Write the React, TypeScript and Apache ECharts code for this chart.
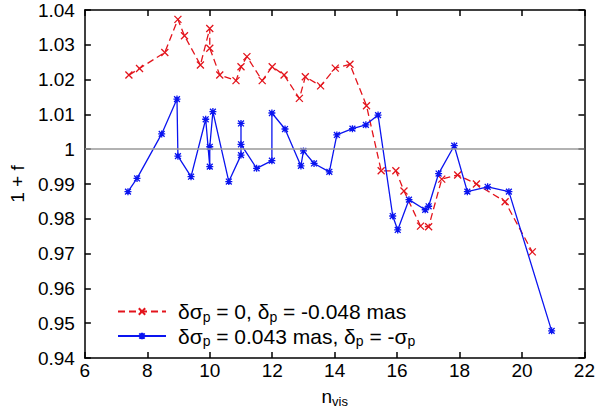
import React, { useEffect, useRef } from "react";
import * as echarts from "echarts";

const redX = [7.41, 7.75, 8.56, 8.98, 9.19, 9.7, 10.0, 10.0, 10.32, 10.84, 11.0, 11.19, 11.68, 12.0, 12.38, 12.87, 13.06, 13.55, 14.02, 14.49, 15.02, 15.49, 15.96, 16.22, 16.75, 17.01, 17.43, 17.94, 18.54, 19.46, 20.33];
const redY = [1.0213, 1.0232, 1.0278, 1.0373, 1.0326, 1.0242, 1.0347, 1.029, 1.0213, 1.0197, 1.0237, 1.0266, 1.0197, 1.0237, 1.0213, 1.0146, 1.0208, 1.0182, 1.0233, 1.0244, 1.0125, 0.9938, 0.9938, 0.988, 0.9779, 0.9777, 0.9914, 0.9926, 0.99, 0.9849, 0.9705];

const blueX = [7.38, 7.67, 8.46, 8.95, 8.98, 9.4, 9.87, 10.0, 10.0, 10.1, 10.61, 11.0, 11.0, 11.0, 11.5, 11.99, 11.99, 12.41, 12.92, 13.0, 13.34, 13.83, 14.07, 14.57, 15.0, 15.39, 15.86, 16.02, 16.38, 16.9, 17.01, 17.33, 17.83, 18.25, 18.9, 19.58, 20.95];
const blueY = [0.9878, 0.9916, 1.0044, 1.0144, 0.998, 0.9921, 1.0086, 0.995, 1.0007, 1.0108, 0.9907, 0.9983, 1.0074, 1.0014, 0.9945, 0.9967, 1.0104, 1.0058, 0.9952, 0.9995, 0.9959, 0.9935, 1.0041, 1.0059, 1.007, 1.0098, 0.9808, 0.9768, 0.9855, 0.9826, 0.9836, 0.993, 1.001, 0.9878, 0.9892, 0.9878, 0.9478];

const xTicks = { min: 6, max: 22, interval: 2 };
const yTicks = { min: 0.94, max: 1.04, interval: 0.01 };
const referenceY = 1;

const redName = "δσ{sub|p} = 0, δ{sub|p} = -0.048 mas";
const blueName = "δσ{sub|p} = 0.043 mas, δ{sub|p} = -σ{sub|p}";

const RED = "#e3141c";
const BLUE = "#0a14f0";
const FONT = "Liberation Sans, Arial, Helvetica, sans-serif";

const crossPath = "path://M0,0L10,10M10,0L0,10";
const starPath = "path://M0,0L10,10M10,0L0,10M5,-1L5,11M-1,5L11,5";

export default function App() {
  const ref = useRef<HTMLDivElement>(null);
  useEffect(() => {
    if (!ref.current) return;
    const chart = echarts.init(ref.current, undefined, { renderer: "svg" });
    const zip = (xs: number[], ys: number[]) => xs.map((x, i) => [x, ys[i]]);
    const axisCommon = {
      type: "value" as const,
      axisLine: { show: true, onZero: false, lineStyle: { color: "#000", width: 1.5 } },
      axisTick: { show: true, inside: true, length: 6, lineStyle: { color: "#000", width: 1.5 } },
      splitLine: { show: false },
    };
    chart.setOption({
      animation: false,
      backgroundColor: "#fff",
      grid: { left: 77, right: 13, top: 10, bottom: 56, containLabel: false },
      legend: {
        left: 112,
        top: 296,
        orient: "vertical",
        itemWidth: 48,
        itemHeight: 8,
        itemGap: 2,
        data: [redName, blueName],
        textStyle: {
          fontSize: 21,
          fontFamily: FONT,
          color: "#000",
          padding: [0, 0, 0, 7],
          rich: { sub: { fontSize: 14, fontFamily: FONT, color: "#000", padding: [10, 0, 0, 0] } },
        },
      },
      xAxis: [
        {
          ...axisCommon,
          ...xTicks,
          position: "bottom",
          name: "n{sub|vis}",
          nameLocation: "middle",
          nameGap: 27,
          nameTextStyle: {
            fontSize: 19,
            fontFamily: FONT,
            color: "#000",
            rich: { sub: { fontSize: 13, fontFamily: FONT, color: "#000", padding: [10, 0, 0, 0] } },
          },
          axisLabel: { fontSize: 19, fontFamily: FONT, color: "#000", margin: 3 },
        },
        {
          ...axisCommon,
          ...xTicks,
          position: "top",
          axisLabel: { show: false },
        },
      ],
      yAxis: [
        {
          ...axisCommon,
          ...yTicks,
          position: "left",
          name: "1 + f",
          nameLocation: "middle",
          nameGap: 56,
          nameTextStyle: { fontSize: 19, fontFamily: FONT, color: "#000" },
          axisLabel: {
            fontSize: 19,
            fontFamily: FONT,
            color: "#000",
            margin: 10,
            formatter: (v: number) => String(parseFloat(v.toFixed(2))),
          },
        },
        {
          ...axisCommon,
          ...yTicks,
          position: "right",
          axisLabel: { show: false },
        },
      ],
      series: [
        {
          name: redName,
          type: "line",
          data: zip(redX, redY),
          symbol: crossPath,
          symbolSize: 7,
          itemStyle: { color: RED, borderColor: RED, borderWidth: 1.3 },
          lineStyle: { color: RED, width: 1.3, type: [7, 4] },
          markLine: {
            silent: true,
            symbol: "none",
            label: { show: false },
            lineStyle: { color: "#999", width: 1.5, type: "solid" },
            data: [{ yAxis: referenceY }],
          },
          z: 2,
        },
        {
          name: blueName,
          type: "line",
          data: zip(blueX, blueY),
          symbol: starPath,
          symbolSize: 7,
          itemStyle: { color: BLUE, borderColor: BLUE, borderWidth: 1.3 },
          lineStyle: { color: BLUE, width: 1.3 },
          z: 3,
        },
      ],
    });
    return () => chart.dispose();
  }, []);
  return <div ref={ref} style={{ width: 598, height: 414, position: "absolute", left: 0, top: 0 }} />;
}
